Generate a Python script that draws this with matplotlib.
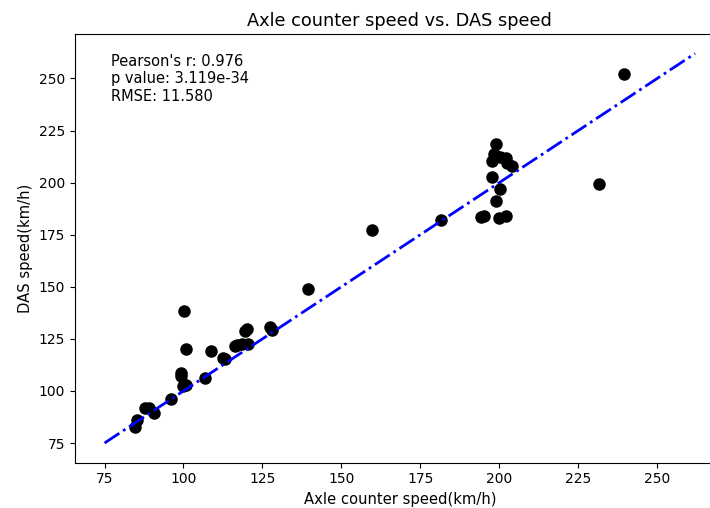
import matplotlib
matplotlib.use("Agg")
import matplotlib.pyplot as plt
import numpy as np

axle_speed = [84.8, 85.2, 87.7, 89.0, 90.6, 96.0, 99.1, 99.1, 99.8, 100.7,
              100.1, 100.7, 106.8, 108.7, 112.5, 113.0, 116.3, 117.0, 118.5,
              119.5, 120.0, 120.4, 127.4, 128.0, 139.5, 159.8, 181.7, 194.1,
              195.1, 197.6, 197.6, 198.3, 198.9, 198.9, 199.8, 200.2, 200.2,
              202.1, 202.1, 202.4, 204.0, 231.6, 239.6]
das_speed = [82.7, 86.0, 91.8, 91.8, 89.6, 96.1, 108.6, 107.0, 102.3, 103.0,
             138.3, 120.1, 106.2, 119.1, 115.8, 115.5, 121.5, 122.0, 122.5,
             128.7, 129.7, 122.5, 130.7, 129.2, 148.9, 177.2, 182.0, 183.4,
             184.2, 210.3, 202.6, 213.7, 218.5, 191.1, 183.0, 212.2, 196.9,
             211.8, 184.2, 209.4, 207.9, 199.3, 252.2]
line_range = [75, 262]
ticks = [75, 100, 125, 150, 175, 200, 225, 250]
stats_text = "Pearson's r: 0.976\np value: 3.119e-34\nRMSE: 11.580"

fig = plt.figure(figsize=(7.1, 5.08), dpi=100)
# axes extends past the right edge (reference image is cropped there)
ax = fig.add_axes([75 / 710, (508 - 462.5) / 508, (724.6 - 75) / 710, (462.5 - 34) / 508])
ax.plot(axle_speed, das_speed, 'o', color='black', markersize=8)
ax.plot(line_range, line_range, '-.', color='blue', linewidth=2)
ax.margins(0.05)
ax.set_xticks(ticks)
ax.set_yticks(ticks)
ax.tick_params(labelsize=10)
ax.text(77.2, 261.8, stats_text, va='top', ha='left', fontsize=10.5)
ax.set_title("Axle counter speed vs. DAS speed", fontsize=12.75)
ax.set_xlabel("Axle counter speed(km/h)", fontsize=10.6)
ax.set_ylabel("DAS speed(km/h)", fontsize=10.6)
fig.savefig("out.png", dpi=100)
